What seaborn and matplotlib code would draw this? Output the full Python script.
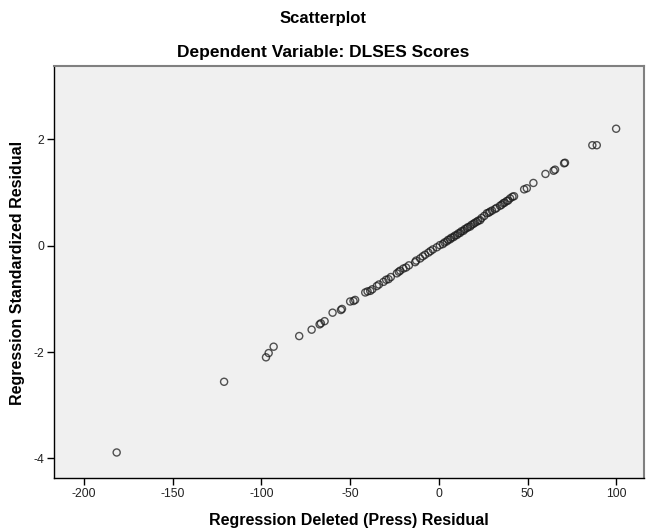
import matplotlib
matplotlib.use("Agg")
import matplotlib.pyplot as plt
import seaborn as sns
import pandas as pd

# Regression Deleted (Press) Residual
press_resid = [
    -181.5, -121.0, -97.4, -95.9, -93.1, -78.7, -71.7, -67.2, -66.5, -64.4,
    -59.9, -55.2, -54.6, -50.0, -48.1, -47.2, -41.5, -40.2, -38.7, -37.5,
    -35.0, -33.8, -31.2, -29.7, -28.4, -27.1, -23.7, -22.6, -21.8, -20.0,
    -18.5, -16.9, -13.4, -12.8, -10.6, -9.1, -7.8, -5.9, -4.7, -3.4,
    -1.2, 0.5, 2.2, 3.1, 4.4, 5.2, 6.3, 7.0, 8.2, 9.0,
    10.1, 10.9, 11.9, 12.6, 13.8, 14.5, 15.7, 16.4, 17.6, 18.3,
    19.4, 20.2, 21.3, 22.1, 23.2, 24.0, 25.5, 27.0, 28.0, 28.8,
    29.9, 31.6, 32.5, 34.4, 35.3, 36.3, 37.0, 38.2, 39.0, 40.1,
    41.4, 42.3, 48.0, 49.5, 53.2, 60.0, 64.6, 65.4, 70.5, 71.0,
    86.4, 88.9, 99.8,
]

# Regression Standardized Residual
std_resid = [
    -3.89, -2.56, -2.10, -2.02, -1.90, -1.70, -1.58, -1.48, -1.46, -1.42,
    -1.26, -1.21, -1.19, -1.05, -1.04, -1.02, -0.88, -0.86, -0.85, -0.82,
    -0.76, -0.73, -0.68, -0.64, -0.63, -0.59, -0.52, -0.49, -0.47, -0.43,
    -0.41, -0.37, -0.31, -0.28, -0.24, -0.20, -0.17, -0.13, -0.10, -0.07,
    -0.03, 0.01, 0.03, 0.06, 0.08, 0.11, 0.12, 0.15, 0.16, 0.19,
    0.20, 0.23, 0.24, 0.27, 0.28, 0.31, 0.33, 0.35, 0.36, 0.39,
    0.41, 0.43, 0.45, 0.47, 0.48, 0.52, 0.56, 0.61, 0.62, 0.64,
    0.66, 0.69, 0.71, 0.75, 0.77, 0.80, 0.81, 0.84, 0.85, 0.89,
    0.92, 0.93, 1.06, 1.08, 1.18, 1.35, 1.41, 1.43, 1.55, 1.56,
    1.89, 1.89, 2.20,
]

x_ticks = [-200, -150, -100, -50, 0, 50, 100]
y_ticks = [-4, -2, 0, 2]

df = pd.DataFrame({"press": press_resid, "std": std_resid})

sns.set_style("white")
plt.rcParams["font.family"] = ["Liberation Sans", "DejaVu Sans"]
plt.rcParams["text.color"] = "black"
plt.rcParams["axes.labelcolor"] = "black"

fig = plt.figure(figsize=(6.46, 5.29), dpi=100)
ax = fig.add_axes([54 / 646, 1 - 478 / 529, (644 - 54) / 646, (478 - 66) / 529])
ax.set_facecolor("#F0F0F0")

sns.scatterplot(data=df, x="press", y="std", ax=ax, marker="o", s=26,
                facecolor="none", edgecolor="#1a1a1a", linewidth=1.0,
                alpha=0.75)

ax.set_xlim(-216.8, 115.5)
ax.set_ylim(-4.37, 3.38)
ax.set_xticks(x_ticks)
ax.set_xticklabels([str(v) for v in x_ticks])
ax.set_yticks(y_ticks)
ax.set_yticklabels([str(v) for v in y_ticks])
ax.tick_params(axis="both", which="major", bottom=True, left=True,
               top=False, right=False, direction="out", length=5, width=1,
               labelsize=8.8, color="black", labelcolor="#222222", pad=2)

for side in ["left", "bottom"]:
    ax.spines[side].set_color("black")
    ax.spines[side].set_linewidth(1.0)
for side in ["top", "right"]:
    ax.spines[side].set_color("#808080")
    ax.spines[side].set_linewidth(1.5)

ax.set_xlabel("Regression Deleted (Press) Residual", fontsize=11.5,
              fontweight="bold")
ax.set_ylabel("Regression Standardized Residual", fontsize=11.5,
              fontweight="bold")
ax.xaxis.set_label_coords(0.5, -(520 - 478) / 412, transform=None) if False else None
ax.xaxis.set_label_coords(0.5, -(521 - 478) / 412)
ax.xaxis.label.set_va("center")
ax.yaxis.set_label_coords(-(54 - 18) / 590, (478 - 273) / 412)
ax.yaxis.label.set_va("center")

fig.text(0.5, 1 - 19 / 529, "Scatterplot", ha="center", va="center",
         fontsize=12, fontweight="bold")
fig.text(0.5, 1 - 52 / 529, "Dependent Variable: DLSES Scores", ha="center",
         va="center", fontsize=12.5, fontweight="bold")

fig.savefig("out.png", dpi=100, facecolor="white")
